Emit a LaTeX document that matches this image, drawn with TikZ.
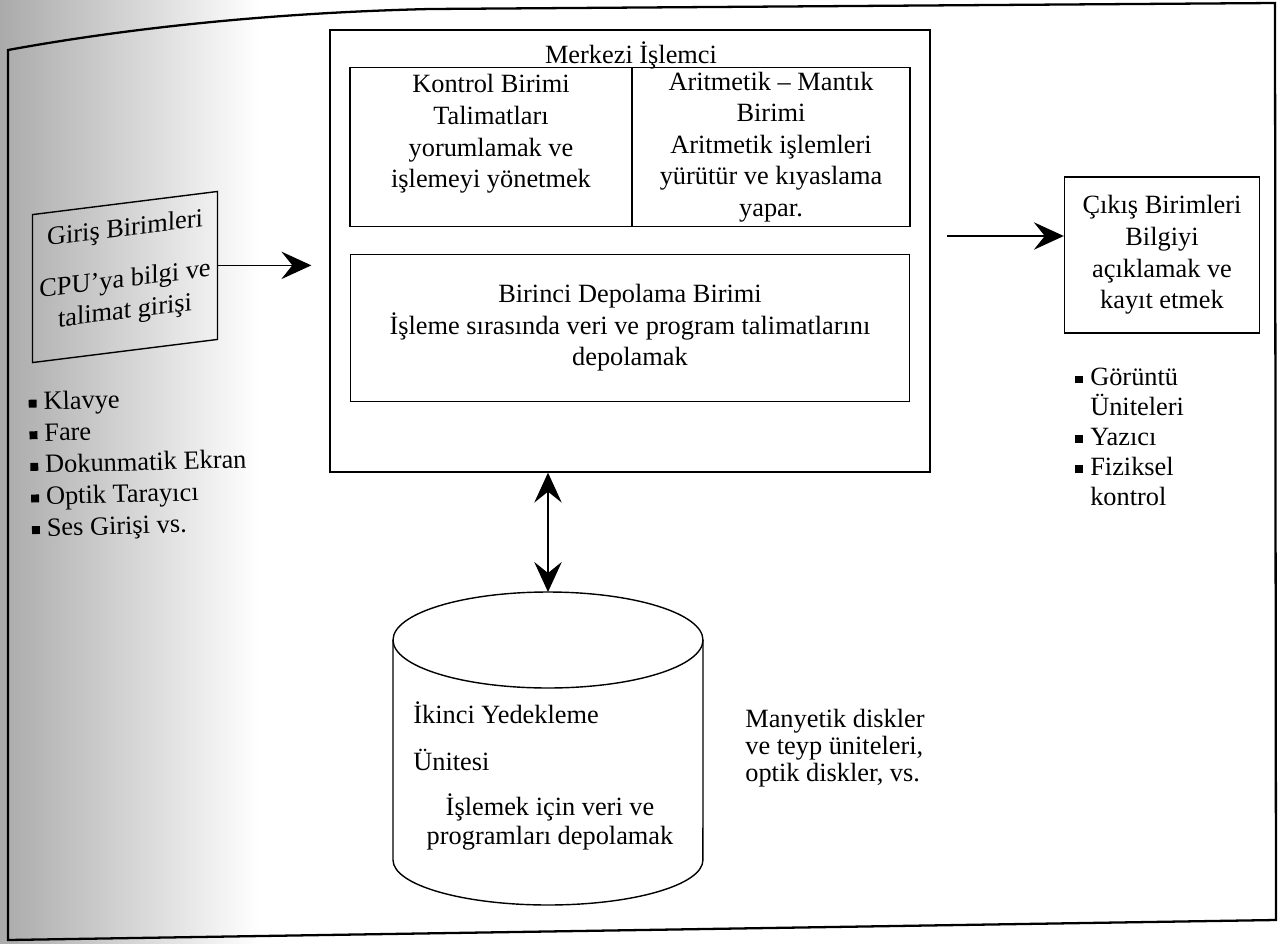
\documentclass[tikz,border=0pt]{standalone}
\usepackage{fontspec}
\setmainfont{Liberation Serif}
\usepackage{tikz}
\usetikzlibrary{arrows.meta}
\newcommand{\sqb}{\rule[0.2ex]{4.5pt}{4.5pt}\hspace{4pt}}
\newcommand{\nob}{\hphantom{\sqb}}
\newcommand{\drawline}{\draw[line width=0.8pt]}
\definecolor{scan}{RGB}{170,170,170}
\tikzset{
  every node/.style={font=\fontsize{15}{18}\selectfont},
  unitbox/.style={draw, line width=0.8pt, align=center, inner sep=2pt},
  plaintext/.style={align=left, inner sep=0pt},
  bigarrow/.style={line width=0.8pt, -{Stealth[length=0.6cm, width=0.55cm, inset=0.22cm]}},
  bothways/.style={line width=0.8pt, {Stealth[length=0.6cm, width=0.55cm, inset=0.22cm]}-{Stealth[length=0.6cm, width=0.55cm, inset=0.22cm]}}
}

\begin{document}
\begin{tikzpicture}[x=0.02cm, y=-0.02cm]
\useasboundingbox (0,0) rectangle (1286,944);
\shade[left color=scan, right color=white] (0,0) rectangle (260,944);
\draw[line width=1.3pt] (8,50) .. controls (150,24) and (300,12) .. (430,9) -- (1275,3) -- (1276,920) -- (8,940) -- cycle;

\node[unitbox, minimum width=12cm, minimum height=8.84cm] (cpu) at (630,251) {};
\node (cputitle) at (631,55) {Merkezi İşlemci};
\node[unitbox, minimum width=5.64cm, minimum height=3.18cm] (kontrol) at (491,147) {Kontrol Birimi\\Talimatları\\yorumlamak ve\\işlemeyi yönetmek\\\mbox{}};
\node[unitbox, minimum width=5.56cm, minimum height=3.18cm] (alu) at (771,147) {Aritmetik – Mantık\\Birimi\\Aritmetik işlemleri\\yürütür ve kıyaslama\\yapar.};
\node[unitbox, minimum width=11.18cm, minimum height=2.94cm] (birinci) at (630,328) {Birinci Depolama Birimi\\İşleme sırasında veri ve program talimatlarını\\depolamak};

\node[unitbox, yslant=0.125, minimum width=3.7cm, minimum height=2.96cm] (giris) at (125,277) {Giriş Birimleri\\[11pt]CPU’ya bilgi ve\\talimat girişi\\[-8pt]\mbox{}};
\node[plaintext, rotate=1.5, anchor=west] (inlist) at (30,467) {\sqb Klavye\\\sqb Fare\\\sqb Dokunmatik Ekran\\\sqb Optik Tarayıcı\\\sqb Ses Girişi vs.};

\node[unitbox, minimum width=3.9cm, minimum height=3.12cm] (cikis) at (1162,255) {Çıkış Birimleri\\Bilgiyi\\açıklamak ve\\kayıt etmek};
\node[plaintext, anchor=west, font=\fontsize{15}{17}\selectfont] (outlist) at (1075,437) {\sqb Görüntü\\\nob Üniteleri\\\sqb Yazıcı\\\sqb Fiziksel\\\nob kontrol};

\drawline (548,640) ellipse [x radius=3.1cm, y radius=0.96cm];
\drawline (393,640) -- (393,860) arc[start angle=180, end angle=360, x radius=3.1cm, y radius=0.9cm] -- (703,640);
\coordinate (diskTop) at (548,592);
\node[plaintext, anchor=west] (diskname) at (413,736) {İkinci Yedekleme\\[9pt]Ünitesi};
\node[plaintext, align=center, font=\fontsize{15}{16.5}\selectfont] (disktext) at (550,822) {İşlemek için veri ve\\programları depolamak};
\node[plaintext, anchor=west, font=\fontsize{15}{15.5}\selectfont] (diskmedia) at (745,748) {Manyetik diskler\\ve teyp üniteleri,\\optik diskler, vs.};

\draw[bigarrow, shorten >=0.36cm] (giris.east) -- (giris.east -| cpu.west);
\coordinate (outStart) at (947,236);
\draw[bigarrow] (outStart) -- (outStart -| cikis.west);
\draw[bothways] (diskTop |- cpu.south) -- (diskTop);
\end{tikzpicture}
\end{document}
